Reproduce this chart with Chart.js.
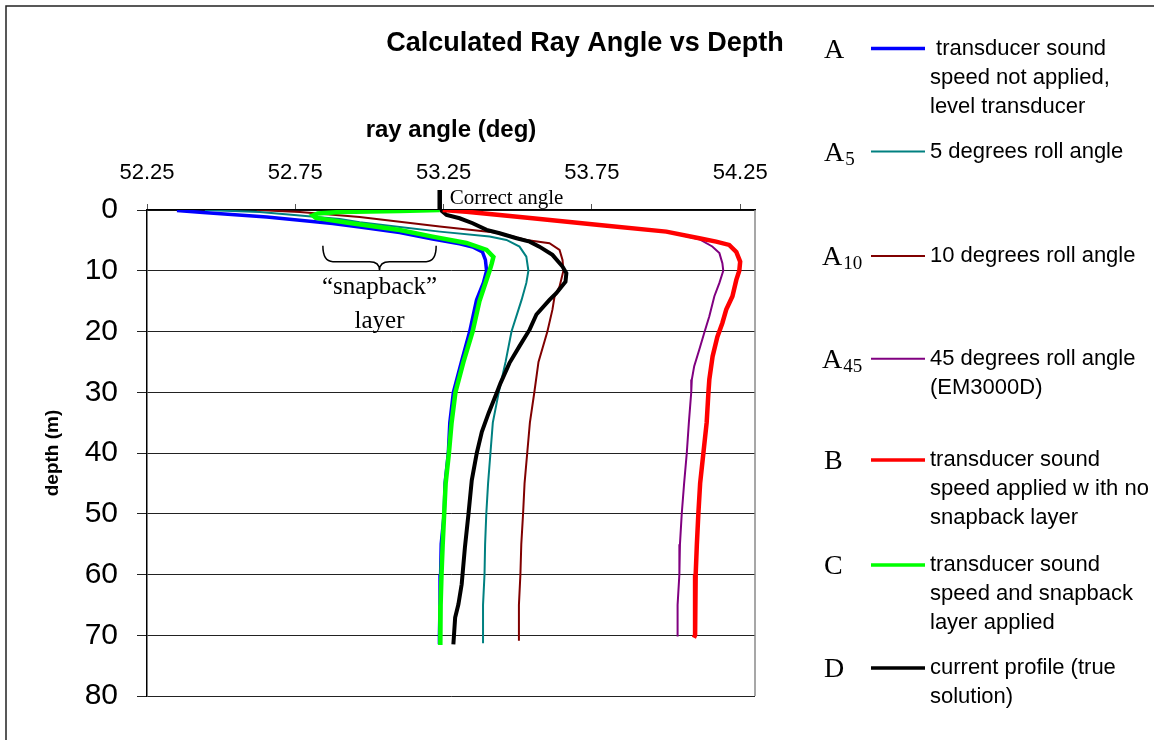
<!DOCTYPE html>
<html>
<head>
<meta charset="utf-8">
<script src="https://cdn.jsdelivr.net/npm/chart.js@4/dist/chart.umd.min.js"></script>
<style>
  body { margin: 0; background: #fff; }
  canvas { display: block; }
</style>
</head>
<body>
<canvas id="rayChart" width="1154" height="740"></canvas>
<script>
// ray angle (deg) against depth (m)
const angleA = [52.351, 52.439, 52.654, 52.876, 52.967, 53.102, 53.213, 53.304, 53.348, 53.381, 53.391, 53.395, 53.384, 53.361, 53.338, 53.310, 53.283, 53.271, 53.266, 53.255, 53.252, 53.242, 53.240, 53.238, 53.236, 53.236];
const depthA = [0.08, 0.41, 1.15, 2.22, 2.79, 3.69, 4.76, 5.58, 6.08, 6.9, 8.2, 10, 12, 14.8, 20, 25, 30, 35, 40, 45, 50, 55, 60, 65, 70, 71.5];

const angleA5 = [52.445, 52.630, 52.900, 52.967, 53.102, 53.237, 53.405, 53.462, 53.506, 53.529, 53.536, 53.529, 53.513, 53.479, 53.459, 53.436, 53.416, 53.408, 53.400, 53.394, 53.390, 53.388, 53.383, 53.383, 53.383];
const depthA5 = [0, 0.33, 1.5, 2.0, 2.8, 3.56, 4.38, 4.93, 6.03, 7.67, 10, 12, 14.8, 20, 25, 30, 35, 40, 45, 50, 55, 60, 65, 70, 71.3];

const angleA10 = [52.620, 52.765, 52.967, 53.237, 53.439, 53.529, 53.607, 53.641, 53.651, 53.654, 53.641, 53.624, 53.617, 53.600, 53.570, 53.556, 53.541, 53.532, 53.523, 53.518, 53.512, 53.509, 53.504, 53.504, 53.504];
const depthA10 = [0, 0.33, 1.15, 2.7, 3.78, 4.93, 5.47, 6.57, 8.21, 10, 12.6, 14.3, 16.4, 20, 25, 30, 35, 40, 45, 50, 55, 60, 65, 70, 70.9];

const angleA45 = [53.247, 53.550, 53.775, 54.001, 54.112, 54.156, 54.180, 54.190, 54.193, 54.180, 54.163, 54.146, 54.129, 54.112, 54.095, 54.087, 54.085, 54.077, 54.070, 54.061, 54.053, 54.047, 54.045, 54.039, 54.039, 54.039];
const depthA45 = [0, 1.4, 2.5, 3.6, 4.8, 6.0, 7.1, 8.75, 10, 12, 14.2, 17.5, 20.2, 23, 25.7, 27.9, 30, 35, 40, 45, 50, 55, 60, 65, 70, 70.2];

const angleB = [53.247, 53.327, 53.550, 53.775, 54.001, 54.112, 54.169, 54.213, 54.237, 54.250, 54.247, 54.237, 54.224, 54.203, 54.190, 54.173, 54.157, 54.146, 54.143, 54.137, 54.126, 54.115, 54.109, 54.104, 54.100, 54.098, 54.098, 54.094];
const depthB = [0, 0.28, 1.36, 2.46, 3.56, 4.65, 5.21, 5.75, 6.9, 8.5, 10, 11.5, 14.2, 16.4, 18.6, 20.9, 24.1, 27.9, 30, 35, 40, 45, 50, 55, 60, 65, 70, 70.4];

const angleC = [53.237, 53.102, 52.900, 52.826, 52.809, 52.819, 52.933, 53.102, 53.213, 53.327, 53.395, 53.418, 53.412, 53.405, 53.371, 53.348, 53.317, 53.290, 53.277, 53.268, 53.257, 53.252, 53.247, 53.243, 53.240, 53.240, 53.238];
const depthC = [0, 0.16, 0.33, 0.57, 0.9, 1.31, 2.13, 3.28, 4.38, 5.42, 6.57, 7.72, 8.87, 10, 15, 20, 25, 30, 35, 40, 45, 50, 55, 60, 65, 70, 71.6];

const angleD = [53.240, 53.260, 53.304, 53.348, 53.395, 53.439, 53.496, 53.540, 53.573, 53.617, 53.651, 53.664, 53.661, 53.630, 53.607, 53.563, 53.540, 53.506, 53.472, 53.442, 53.430, 53.402, 53.379, 53.362, 53.345, 53.334, 53.322, 53.311, 53.300, 53.289, 53.283];
const depthD = [0, 0.82, 1.36, 2.18, 3.28, 3.83, 4.65, 5.21, 6.03, 7.39, 9.31, 10.4, 11.8, 13.7, 14.8, 17.2, 19.7, 22.4, 25.2, 28.5, 30, 33.4, 36.5, 40, 44.5, 50, 55.5, 61.6, 64.9, 67.1, 71.5];

// "Correct angle" marker above the axis
const angleMark = [53.237, 53.237];
const depthMark = [-3.3, 0];

const xTicks = [52.25, 52.75, 53.25, 53.75, 54.25];

const legendKeys = ['A', 'A', 'A', 'A', 'B', 'C', 'D'];
const legendSubs = ['', '5', '10', '45', '', '', ''];
const legendText = [
  [' transducer sound', 'speed not applied,', 'level transducer'],
  ['5 degrees roll angle'],
  ['10 degrees roll angle'],
  ['45 degrees roll angle', '(EM3000D)'],
  ['transducer sound', 'speed applied w ith no', 'snapback layer'],
  ['transducer sound', 'speed and snapback', 'layer applied'],
  ['current profile (true', 'solution)']
];

const SANS = '"Liberation Sans", Arial, sans-serif';
const SERIF = '"Liberation Serif", "Times New Roman", serif';

function pts(xs, ys) {
  return xs.map((x, i) => ({ x: x, y: ys[i] }));
}

function series(label, xs, ys, color, width, order) {
  return {
    label: label,
    data: pts(xs, ys),
    borderColor: color,
    backgroundColor: color,
    borderWidth: width,
    showLine: true,
    pointRadius: 0,
    tension: 0,
    order: order
  };
}

// title, border, annotations and the side legend
const extras = {
  id: 'extras',
  beforeDraw(chart) {
    const ctx = chart.ctx;
    ctx.save();
    ctx.fillStyle = '#fff';
    ctx.fillRect(0, 0, chart.width, chart.height);
    ctx.strokeStyle = '#222';
    ctx.lineWidth = 1.5;
    ctx.strokeRect(6, 6, chart.width + 20, chart.height + 20);
    ctx.fillStyle = '#000';
    ctx.font = 'bold 27px ' + SANS;
    ctx.textAlign = 'center';
    ctx.textBaseline = 'middle';
    ctx.fillText('Calculated Ray Angle vs Depth', 585, 44);
    ctx.restore();
  },
  beforeDatasetsDraw(chart) {
    const ctx = chart.ctx, a = chart.chartArea;
    ctx.save();
    ctx.strokeStyle = '#8a8a8a';
    ctx.lineWidth = 1.5;
    ctx.beginPath();
    ctx.moveTo(a.right, a.top);
    ctx.lineTo(a.right, a.bottom);
    ctx.stroke();
    ctx.restore();
  },
  afterDraw(chart) {
    const ctx = chart.ctx;
    const X = v => chart.scales.x.getPixelForValue(v);
    const Y = v => chart.scales.y.getPixelForValue(v);
    ctx.save();

    // Correct angle label
    ctx.fillStyle = '#000';
    ctx.font = '21px ' + SERIF;
    ctx.textAlign = 'left';
    ctx.textBaseline = 'middle';
    ctx.fillText('Correct angle', X(angleMark[0]) + 10, Y(0) - 12);

    // snapback brace
    const xl = X(52.843), xr = X(53.225), xm = (xl + xr) / 2;
    const yt = Y(5.9), yb = Y(8.5), yTip = Y(9.9);
    ctx.strokeStyle = '#000';
    ctx.lineWidth = 1.5;
    ctx.beginPath();
    ctx.moveTo(xl, yt);
    ctx.quadraticCurveTo(xl, yb, xl + 10, yb);
    ctx.lineTo(xm - 10, yb);
    ctx.quadraticCurveTo(xm, yb, xm, yTip);
    ctx.quadraticCurveTo(xm, yb, xm + 10, yb);
    ctx.lineTo(xr - 10, yb);
    ctx.quadraticCurveTo(xr, yb, xr, yt);
    ctx.stroke();
    ctx.font = '25px ' + SERIF;
    ctx.textAlign = 'center';
    ctx.fillText('\u201Csnapback\u201D', xm, Y(12.8));
    ctx.fillText('layer', xm, Y(18.3));

    // side legend
    const rows = [48.6, 151.5, 256, 358.7, 460, 565, 668];
    legendKeys.forEach((k, i) => {
      const ds = chart.data.datasets[i];
      const y = rows[i];
      const kx = legendSubs[i].length > 1 ? 822 : 824;
      ctx.fillStyle = '#000';
      ctx.textAlign = 'left';
      ctx.textBaseline = 'alphabetic';
      ctx.font = '28px ' + SERIF;
      ctx.fillText(k, kx, y + 9);
      if (legendSubs[i]) {
        const w = ctx.measureText(k).width;
        ctx.font = '19px ' + SERIF;
        ctx.fillText(legendSubs[i], kx + w + 1, y + 13);
      }
      ctx.strokeStyle = ds.borderColor;
      ctx.lineWidth = ds.borderWidth > 3 ? 3.5 : 2;
      ctx.beginPath();
      ctx.moveTo(871, y);
      ctx.lineTo(925, y);
      ctx.stroke();
      ctx.font = '22px ' + SANS;
      ctx.textBaseline = 'middle';
      legendText[i].forEach((t, j) => ctx.fillText(t, 930, y + j * 29.2));
    });
    ctx.restore();
  }
};

const ctx = document.getElementById('rayChart').getContext('2d');
const chart = new Chart(ctx, {
  type: 'scatter',
  data: {
    datasets: [
      series('A', angleA, depthA, '#0000ff', 3.5, 2),
      series('A5', angleA5, depthA5, '#008080', 2, 2),
      series('A10', angleA10, depthA10, '#800000', 2, 2),
      series('A45', angleA45, depthA45, '#800080', 2, 2),
      series('B', angleB, depthB, '#ff0000', 4.5, 1),
      series('C', angleC, depthC, '#00ff00', 4.5, 1),
      series('D', angleD, depthD, '#000000', 4, 1),
      Object.assign(series('Correct angle', angleMark, depthMark, '#000000', 4.5, 0), { clip: false })
    ]
  },
  options: {
    responsive: false,
    animation: false,
    layout: { padding: { left: 0, top: 0, right: 399, bottom: 44 } },
    plugins: {
      legend: { display: false },
      tooltip: { enabled: false }
    },
    scales: {
      x: {
        type: 'linear',
        position: 'top',
        min: 52.25,
        max: 54.3,
        afterBuildTicks: s => { s.ticks = xTicks.map(v => ({ value: v })); },
        afterFit: s => { s.height = 210; },
        ticks: {
          color: '#000',
          padding: 18,
          font: { family: SANS, size: 22 },
          callback: v => v.toFixed(2)
        },
        grid: { drawOnChartArea: false, tickLength: 6, color: '#555', lineWidth: 1 },
        border: { color: '#000', width: 1.5 },
        title: {
          display: true,
          text: 'ray angle (deg)',
          color: '#000',
          font: { family: SANS, size: 24, weight: 'bold' },
          padding: { top: 116, bottom: 0 }
        }
      },
      y: {
        type: 'linear',
        reverse: true,
        min: 0,
        max: 80,
        afterFit: s => { s.width = 147; },
        ticks: {
          stepSize: 10,
          color: '#000',
          padding: 19,
          font: { family: SANS, size: 30 }
        },
        grid: { color: '#222', lineWidth: 1, tickLength: 10 },
        border: { color: '#000', width: 1.5 },
        title: {
          display: true,
          text: 'depth (m)',
          color: '#000',
          font: { family: SANS, size: 19, weight: 'bold' },
          padding: { top: 41, bottom: 0 }
        }
      }
    }
  },
  plugins: [extras]
});
</script>
</body>
</html>
